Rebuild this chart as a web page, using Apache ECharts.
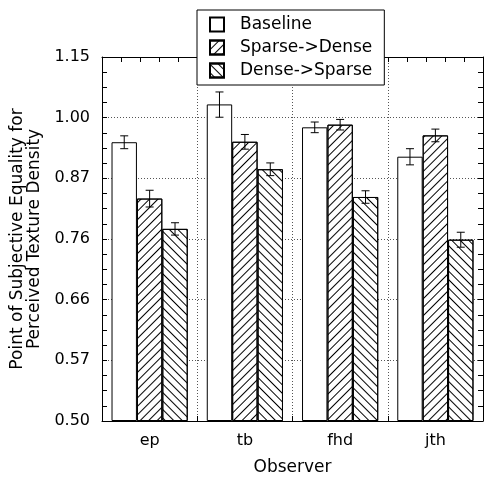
<!DOCTYPE html>
<html>
<head>
<meta charset="utf-8">
<script src="https://cdn.jsdelivr.net/npm/echarts@6/dist/echarts.min.js"></script>
<style>
  html, body { margin: 0; padding: 0; background: #fff; }
  #chart { width: 484px; height: 479px; }
</style>
</head>
<body>
<div id="chart"></div>
<script>
(function () {
  var observers = ["ep", "tb", "fhd", "jth"];
  var seriesNames = ["Baseline", "Sparse->Dense", "Dense->Sparse"];
  var baseline = [0.945, 1.031, 0.978, 0.914];
  var baselineErr = [0.014, 0.030, 0.012, 0.017];
  var sparseDense = [0.830, 0.946, 0.984, 0.960];
  var sparseDenseErr = [0.016, 0.016, 0.012, 0.014];
  var denseSparse = [0.774, 0.888, 0.833, 0.755];
  var denseSparseErr = [0.011, 0.013, 0.012, 0.013];
  // log axis, one step = factor 1.15
  var yTickLabels = ["0.50", "0.57", "0.66", "0.76", "0.87", "1.00", "1.15"];

  var FONT = "DejaVu Sans";
  var LOG_BASE = 1.15;

  function toAxis(v) {
    return Math.log(v) / Math.log(LOG_BASE) + 5;
  }

  var values = [baseline, sparseDense, denseSparse];
  var errors = [baselineErr, sparseDenseErr, denseSparseErr];

  var decals = [
    null,
    { symbol: "rect", color: "#000", dashArrayX: [1, 0], dashArrayY: [1, 5], rotation: -Math.PI / 4 },
    { symbol: "rect", color: "#000", dashArrayX: [1, 0], dashArrayY: [1, 5], rotation: Math.PI / 4 }
  ];

  var series = [];
  values.forEach(function (vals, s) {
    var style = { color: "#fff", borderColor: "#000", borderWidth: 1 };
    if (decals[s]) style.decal = decals[s];
    series.push({
      name: seriesNames[s],
      type: "bar",
      xAxisIndex: 0,
      yAxisIndex: 0,
      barGap: "0%",
      barCategoryGap: "20%",
      itemStyle: style,
      data: vals.map(toAxis)
    });
  });

  values.forEach(function (vals, s) {
    series.push({
      type: "custom",
      xAxisIndex: 0,
      yAxisIndex: 0,
      silent: true,
      z: 5,
      encode: { x: 0, y: [1, 2] },
      data: vals.map(function (v, i) {
        return [i, toAxis(v - errors[s][i]), toAxis(v + errors[s][i])];
      }),
      renderItem: function (params, api) {
        var catW = api.size([1, 0])[0];
        var bw = catW * 0.8 / 3;
        var lo = api.coord([api.value(0), api.value(1)]);
        var hi = api.coord([api.value(0), api.value(2)]);
        var x = lo[0] + (s - 1) * bw;
        var cap = 4;
        var st = { stroke: "#000", lineWidth: 1 };
        return {
          type: "group",
          children: [
            { type: "line", shape: { x1: x, y1: lo[1], x2: x, y2: hi[1] }, style: st },
            { type: "line", shape: { x1: x - cap, y1: lo[1], x2: x + cap, y2: lo[1] }, style: st },
            { type: "line", shape: { x1: x - cap, y1: hi[1], x2: x + cap, y2: hi[1] }, style: st }
          ]
        };
      }
    });
  });

  var gridLine = { show: true, lineStyle: { color: "#555", type: [1, 2], width: 1 } };

  function frameLine(visible) {
    return { show: visible, onZero: false, lineStyle: { color: "#000", width: 1 } };
  }

  // ticks pointing into the plot
  function innerTick() {
    return { show: true, inside: true, length: 5, lineStyle: { color: "#000" } };
  }

  function tickAxis(pos, max, step, withLine) {
    return {
      type: "value",
      min: 0,
      max: max,
      interval: step,
      position: pos,
      axisLine: frameLine(withLine),
      axisTick: innerTick(),
      axisLabel: { show: false },
      splitLine: { show: false }
    };
  }

  var option = {
    animation: false,
    backgroundColor: "#fff",
    textStyle: { fontFamily: FONT, color: "#000" },
    grid: { left: 102, right: 1, top: 57, bottom: 58, outerBoundsMode: "none", containLabel: false },
    legend: {
      data: seriesNames,
      orient: "vertical",
      left: 197,
      top: 10,
      padding: [6, 12, 6, 12],
      itemGap: 6,
      itemWidth: 14,
      itemHeight: 14,
      backgroundColor: "#fff",
      borderColor: "#000",
      borderWidth: 1,
      icon: "rect",
      textStyle: { fontFamily: FONT, fontSize: 17, color: "#000", padding: [0, 0, 0, 11] },
      z: 20
    },
    xAxis: [
      {
        type: "category",
        data: observers,
        position: "bottom",
        name: "Observer",
        nameLocation: "middle",
        nameGap: 38,
        nameTextStyle: { fontFamily: FONT, fontSize: 17, color: "#000" },
        axisLine: frameLine(true),
        axisTick: { show: false },
        axisLabel: { fontFamily: FONT, fontSize: 16, color: "#000", margin: 12 },
        splitLine: gridLine
      },
      tickAxis("top", 4, 0.2, true),
      tickAxis("bottom", 4, 0.2, false)
    ],
    yAxis: [
      {
        type: "value",
        min: 0,
        max: 6,
        interval: 1,
        position: "left",
        name: "Point of Subjective Equality for\nPerceived Texture Density",
        nameLocation: "middle",
        nameGap: 46,
        nameTextStyle: { fontFamily: FONT, fontSize: 17, color: "#000", lineHeight: 17 },
        axisLine: frameLine(true),
        axisTick: innerTick(),
        axisLabel: {
          fontFamily: FONT,
          fontSize: 16,
          color: "#000",
          margin: 12,
          formatter: function (v) { return yTickLabels[Math.round(v)]; }
        },
        splitLine: gridLine
      },
      tickAxis("right", 6, 0.25, true),
      tickAxis("left", 6, 0.25, false)
    ],
    series: series
  };

  var chart = echarts.init(document.getElementById("chart"), null, { renderer: "canvas" });
  chart.setOption(option);
})();
</script>
</body>
</html>
